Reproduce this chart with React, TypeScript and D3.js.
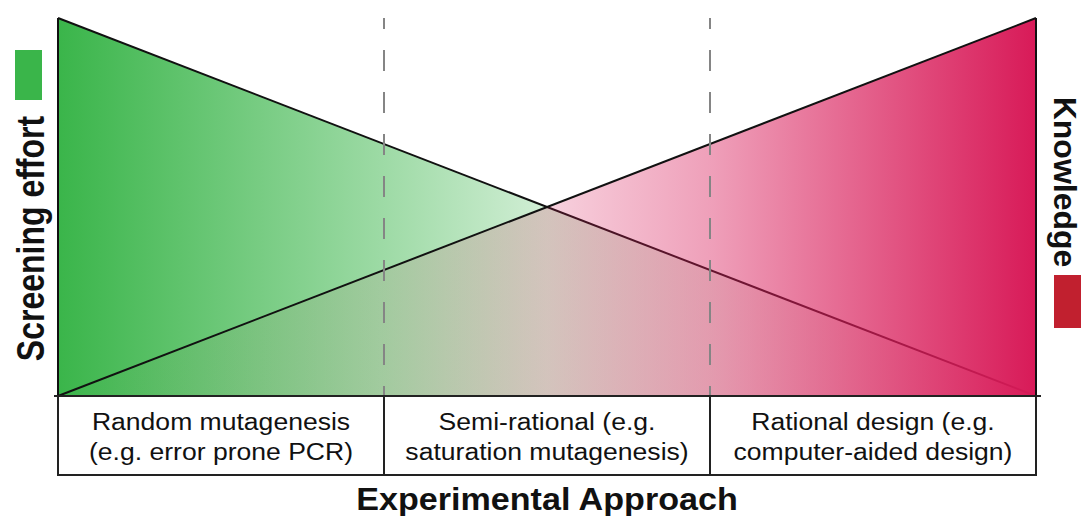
import React from 'react';
import * as d3 from 'd3';

// categories along the x axis (two text lines each)
const approachLine1 = ['Random mutagenesis', 'Semi-rational (e.g.', 'Rational design (e.g.'];
const approachLine2 = ['(e.g. error prone PCR)', 'saturation mutagenesis)', 'computer-aided design)'];

// relative level at the left and right edge of the approach axis
const edgePositions = [0, 3];
const screeningEffort = [1, 0];
const knowledge = [0, 1];

const xTitle = 'Experimental Approach';
const leftLabel = 'Screening effort';
const rightLabel = 'Knowledge';

const greenColor = '#3ab54a';
const redColor = '#d81a58';
const legendRed = '#c1202f';

const W = 1086;
const H = 516;
const left = 58;
const right = 1036;
const top = 18;
const base = 396;
const boxBottom = 475;

export default function App() {
    const x = d3.scaleLinear().domain([0, 3]).range([left, right]);
    const y = d3.scaleLinear().domain([0, 1]).range([base, top]);

    const area = d3.area<number>()
        .x((d, i) => x(edgePositions[i]))
        .y0(y(0))
        .y1(d => y(d));

    const line = d3.line<number>()
        .x((d, i) => x(edgePositions[i]))
        .y(d => y(d));

    const font = 'Liberation Sans, Arial, Helvetica, sans-serif';

    return (
        <svg width={W} height={H} style={{ position: 'absolute', left: 0, top: 0 }} fontFamily={font}>
            <defs>
                <linearGradient id="greenGrad" gradientUnits="userSpaceOnUse" x1={left} x2={right} y1={0} y2={0}>
                    <stop offset="0" stopColor={greenColor} stopOpacity={1} />
                    <stop offset="0.33" stopColor={greenColor} stopOpacity={0.5} />
                    <stop offset="0.5" stopColor={greenColor} stopOpacity={0.23} />
                    <stop offset="0.7" stopColor={greenColor} stopOpacity={0.08} />
                    <stop offset="1" stopColor={greenColor} stopOpacity={0} />
                </linearGradient>
                <linearGradient id="redGrad" gradientUnits="userSpaceOnUse" x1={left} x2={right} y1={0} y2={0}>
                    <stop offset="0" stopColor={redColor} stopOpacity={0} />
                    <stop offset="0.33" stopColor={redColor} stopOpacity={0.08} />
                    <stop offset="0.5" stopColor={redColor} stopOpacity={0.2} />
                    <stop offset="0.67" stopColor={redColor} stopOpacity={0.42} />
                    <stop offset="1" stopColor={redColor} stopOpacity={1} />
                </linearGradient>
            </defs>

            {/* screening effort triangle */}
            <path d={area(screeningEffort) ?? ''} fill="url(#greenGrad)" />
            <path d={line(screeningEffort) ?? ''} fill="none" stroke="#111" strokeWidth={2} />
            <line x1={x(0)} x2={x(0)} y1={y(1)} y2={y(0)} stroke="#111" strokeWidth={2} />

            {/* knowledge triangle */}
            <path d={area(knowledge) ?? ''} fill="url(#redGrad)" />
            <path d={line(knowledge) ?? ''} fill="none" stroke="#111" strokeWidth={2} />
            <line x1={x(3)} x2={x(3)} y1={y(1)} y2={y(0)} stroke="#111" strokeWidth={2} />

            {/* dashed separators */}
            {[1, 2].map(d => (
                <line key={d} x1={x(d)} x2={x(d)} y1={y(1)} y2={y(0)}
                    stroke="#858585" strokeWidth={2} strokeDasharray="21 21" strokeDashoffset={10} />
            ))}

            {/* category boxes */}
            <rect x={x(0)} y={base} width={x(3) - x(0)} height={boxBottom - base} fill="#fff" stroke="#222" strokeWidth={2} />
            <line x1={left - 4} x2={right + 5} y1={base} y2={base} stroke="#222" strokeWidth={2} />
            {[1, 2].map(d => (
                <line key={d} x1={x(d)} x2={x(d)} y1={base} y2={boxBottom} stroke="#222" strokeWidth={2} />
            ))}
            {approachLine1.map((t, i) => (
                <g key={i} transform={`translate(${x(i + 0.5)},0)`}>
                    <text transform="translate(0,430) scale(1.13,1)" textAnchor="middle" fontSize={23.5} fill="#111">{t}</text>
                    <text transform="translate(0,460) scale(1.13,1)" textAnchor="middle" fontSize={23.5} fill="#111">{approachLine2[i]}</text>
                </g>
            ))}

            <text transform={`translate(${x(1.5)},510) scale(1.1,1)`} textAnchor="middle" fontSize={31} fontWeight="bold" fill="#111">{xTitle}</text>

            {/* left label + legend swatch */}
            <rect x={15} y={50} width={27} height={50} fill={greenColor} />
            <text transform="translate(44,238.5) scale(1.2,1) rotate(-90)" textAnchor="middle" fontSize={32} fontWeight="bold" fill="#111">{leftLabel}</text>

            {/* right label + legend swatch */}
            <rect x={1054} y={275} width={27} height={53} fill={legendRed} />
            <text transform="translate(1054,182) rotate(90)" textAnchor="middle" fontSize={32} fontWeight="bold" fill="#111">{rightLabel}</text>
        </svg>
    );
}
